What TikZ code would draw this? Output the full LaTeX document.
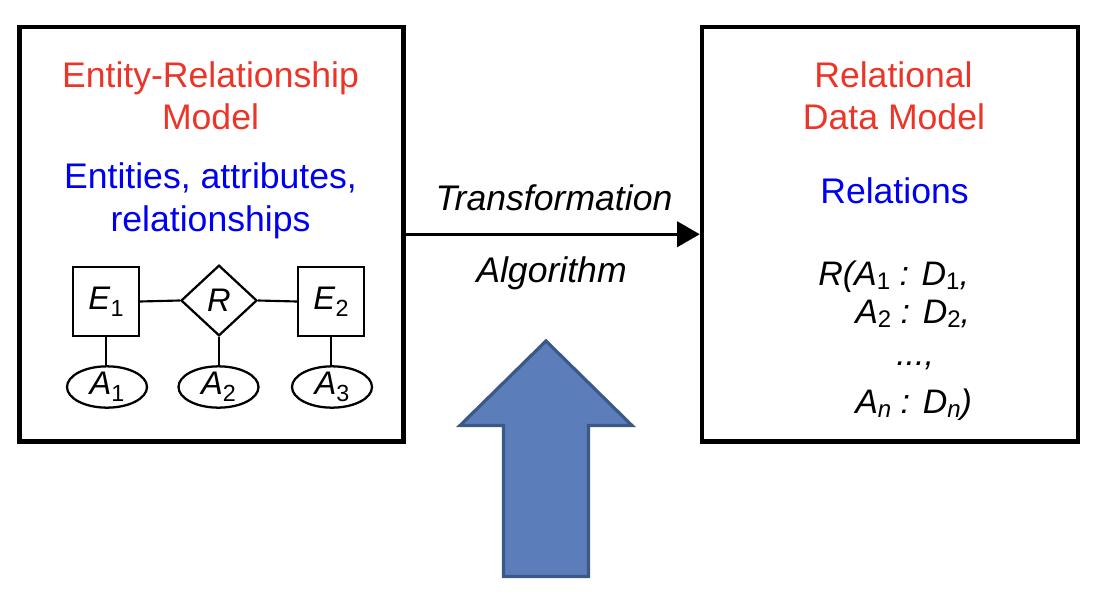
\documentclass[tikz,border=0pt]{standalone}
\usepackage{fontspec}
\setmainfont{Liberation Sans}
\usetikzlibrary{shapes.geometric,arrows.meta}
\definecolor{titlered}{RGB}{234,53,40}
\definecolor{subblue}{RGB}{0,0,240}
\definecolor{arrowfill}{RGB}{91,126,186}
\definecolor{arrowline}{RGB}{60,88,135}
\newcommand\relsub[1]{\raisebox{-0.14em}{\fontsize{18}{18}\selectfont #1}}
\newcommand\ersub[1]{\raisebox{-0.2em}{\fontsize{17.5}{17.5}\selectfont #1}}
\tikzset{
  bigbox/.style={draw=black, line width=3.4pt, minimum height=310.9pt, inner sep=0pt},
  maintext/.style={font=\fontsize{26.7}{30}\selectfont, anchor=base, inner sep=0pt},
  ertext/.style={font=\fontsize{24.5}{28}\selectfont, inner sep=0pt},
  entity/.style={ertext, draw, line width=1.7pt, minimum width=49.5pt, minimum height=51.75pt},
  relship/.style={ertext, draw, diamond, line width=1.7pt, minimum width=57pt, minimum height=53pt},
  attrib/.style={ertext, draw, ellipse, line width=1.7pt, minimum width=60pt, minimum height=31pt},
  erline/.style={line width=1.6pt},
  reltext/.style={font=\fontsize{25.5}{30}\selectfont\itshape, anchor=base west, inner sep=0pt},
}
\begin{document}
\begin{tikzpicture}[x=0.75pt,y=-0.75pt]
\useasboundingbox (0,0) rectangle (1104,610);
% big boxes
\node[bigbox, minimum width=288pt] (lbox) at (211.5,234.25) {};
\node[bigbox, minimum width=282pt] (rbox) at (890,234.25) {};
% left texts
\node[maintext, text=titlered] (t1) at (210.5,88) {Entity-Relationship};
\node[maintext, text=titlered] (t2) at (210.5,130) {Model};
\node[maintext, text=subblue] (t3) at (210.5,188) {Entities, attributes,};
\node[maintext, text=subblue] (t4) at (210.5,231) {relationships};
% right texts
\node[maintext, text=titlered] (t5) at (893.5,88) {Relational};
\node[maintext, text=titlered] (t6) at (894,130) {Data Model};
\node[maintext, text=subblue] (t7) at (894.5,204) {Relations};
% relation schema
\node[reltext] (r1) at (818,285) {R(A\relsub{\upshape 1} : D\relsub{\upshape 1},};
\node[reltext] (r2) at (855,323) {A\relsub{\upshape 2} : D\relsub{\upshape 2},};
\node[reltext] (r3) at (896,365) {...,};
\node[reltext] (r4) at (855,413) {A\relsub{n} : D\relsub{n})};
% ER diagram
\node[entity] (e1) at (106,301.5) {\textit{E}\ersub{1}};
\node[relship] (rr) at (219,300.5) {\textit{R}};
\node[entity] (e2) at (331,301.5) {\textit{E}\ersub{2}};
\node[attrib] (a1) at (107,387) {\textit{A}\ersub{1}};
\node[attrib] (a2) at (218.5,387) {\textit{A}\ersub{2}};
\node[attrib] (a3) at (332,387) {\textit{A}\ersub{3}};
\draw[erline] (e1.east) -- (rr.west);
\draw[erline] (rr.east) -- (e2.west);
\draw[erline] (e1.south) -- (e1.south |- a1.north);
\draw[erline] (rr.south) -- (rr.south |- a2.north);
\draw[erline] (e2.south) -- (e2.south |- a3.north);
% transformation arrow
\draw[line width=2.25pt, -{Triangle[length=17pt,width=19pt]}] (lbox.east) -- (rbox.west);
\node[maintext, font=\fontsize{26.7}{30}\selectfont\itshape] (tr) at (554,210) {Transformation};
\node[maintext, font=\fontsize{26.7}{30}\selectfont\itshape] (al) at (551.5,282) {Algorithm};
% block arrow
\draw[fill=arrowfill, draw=arrowline, line width=2.4pt, line join=miter]
  (546,341) -- (460,425.5) -- (503.5,425.5) -- (503.5,576.5) -- (588.5,576.5)
  -- (588.5,425.5) -- (632,425.5) -- cycle;
\end{tikzpicture}
\end{document}
